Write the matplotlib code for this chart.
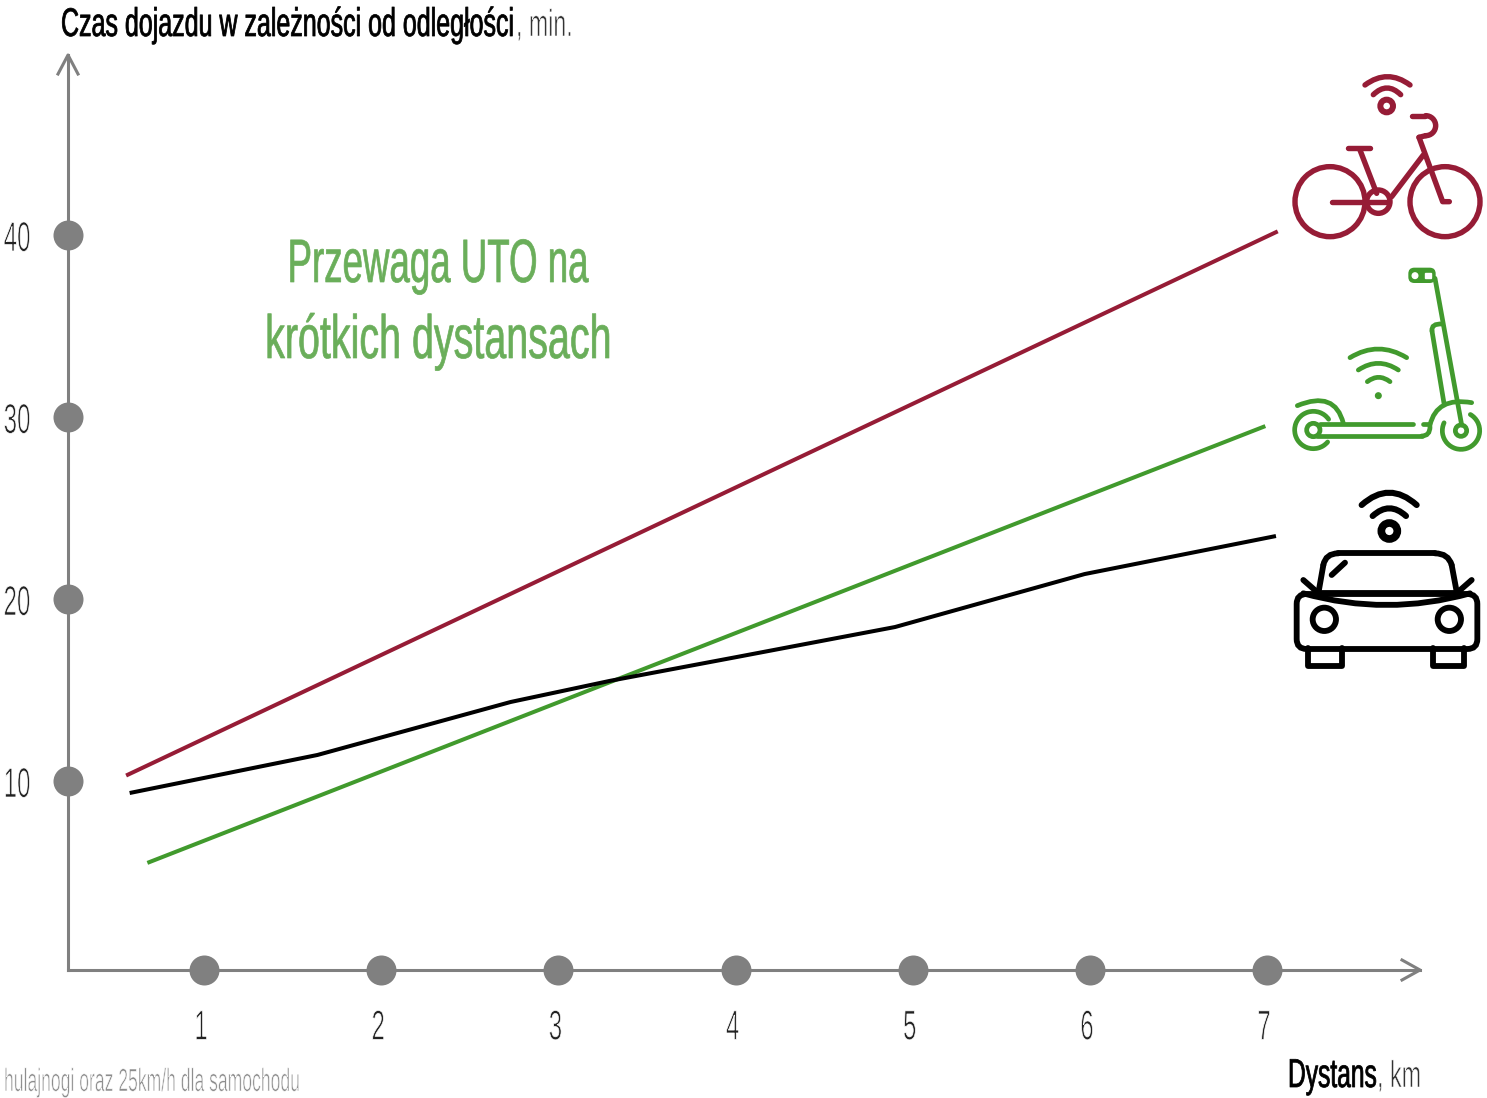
import matplotlib
matplotlib.use('Agg')
import matplotlib.pyplot as plt
from matplotlib.patches import Circle, PathPatch, FancyBboxPatch, Rectangle
from matplotlib.path import Path
from matplotlib.patheffects import AbstractPathEffect
from matplotlib.transforms import Affine2D

plt.rcParams['font.family'] = ['Liberation Sans Narrow', 'Liberation Sans', 'DejaVu Sans']

# dane
dist_ticks = [1, 2, 3, 4, 5, 6, 7]
time_ticks = [10, 20, 30, 40]
bike_x = [0.56, 7.06]
bike_y = [10.3, 40.2]
scooter_x = [0.68, 6.99]
scooter_y = [5.5, 29.5]
car_x = [0.58, 1.64, 2.73, 3.29, 4.0, 4.9, 5.97, 7.05]
car_y = [9.34, 11.43, 14.34, 15.5, 16.8, 18.46, 21.37, 23.46]

GRAY = '#808080'
RED = '#961c36'
GREEN = '#419a2d'
LIGHT_GREEN = '#6aae5a'


class Tall(AbstractPathEffect):
    # rozciaga tekst w pionie od linii bazowej, font w oryginale jest mocno waski
    def __init__(self, sy, stroke=None, stroke_w=0, dx=0, dy=0):
        super().__init__()
        self.sy = sy
        self.stroke = stroke
        self.stroke_w = stroke_w
        self.dx = dx
        self.dy = dy

    def draw_path(self, renderer, gc, tpath, affine, rgbFace=None):
        base = affine.transform_point((0, 0))[1]
        tall = Affine2D().translate(self.dx, -base).scale(1, self.sy).translate(0, base + self.dy)
        renderer.draw_path(gc, tpath, affine + tall, rgbFace)
        if self.stroke:
            gc2 = renderer.new_gc()
            gc2.copy_properties(gc)
            gc2.set_foreground(self.stroke)
            gc2.set_linewidth(self.stroke_w)
            renderer.draw_path(gc2, tpath, affine + tall, None)
            gc2.restore()


fig = plt.figure(figsize=(14.87, 10.98), dpi=100)
W, H = 1487, 1098

# wykres
ax = fig.add_axes([68 / W, (H - 970) / H, (1420 - 68) / W, (970 - 55) / H])
ax.set_xlim(0.232, 7.863)
ax.set_ylim(-0.385, 49.89)
for side in ['top', 'right']:
    ax.spines[side].set_visible(False)
for side in ['left', 'bottom']:
    ax.spines[side].set_color(GRAY)
    ax.spines[side].set_linewidth(2.2)
ax.patch.set_visible(False)

ax.plot(bike_x, bike_y, color=RED, lw=2.9, solid_capstyle='butt')
ax.plot(scooter_x, scooter_y, color=GREEN, lw=2.9, solid_capstyle='butt')
ax.plot(car_x, car_y, color='black', lw=2.9, solid_capstyle='butt')

ax.scatter(dist_ticks, [ax.get_ylim()[0]] * len(dist_ticks), s=467, color=GRAY, clip_on=False, zorder=5, lw=0)
ax.scatter([ax.get_xlim()[0]] * len(time_ticks), time_ticks, s=467, color=GRAY, clip_on=False, zorder=5, lw=0)

ax.set_xticks(dist_ticks)
ax.set_xticklabels([str(v) for v in dist_ticks])
ax.set_yticks(time_ticks)
ax.set_yticklabels([str(v) for v in time_ticks])
ax.tick_params(axis='x', length=0, pad=50, labelsize=17.4, labelcolor='#222222')
ax.tick_params(axis='y', length=0, pad=27, labelsize=17.4, labelcolor='#222222')
for lab in ax.get_xticklabels():
    lab.set_va('baseline')
    lab.set_path_effects([Tall(1.72, 'white', 0.5, dx=-3)])
for lab in ax.get_yticklabels():
    lab.set_va('baseline')
    lab.set_path_effects([Tall(1.72, 'white', 0.5, dy=-16)])

# warstwa w pikselach: strzalki, ikony, napisy
ov = fig.add_axes([0, 0, 1, 1])
ov.set_xlim(0, W)
ov.set_ylim(H, 0)
ov.axis('off')
ov.patch.set_visible(False)

ov.plot([58, 68, 78], [74, 55, 74], color=GRAY, lw=2.2)
ov.plot([1402, 1420, 1402], [960, 970, 980], color=GRAY, lw=2.2)


def line(x0, y0, pts, color, lw):
    ov.plot([x0 + p[0] / 3 for p in pts], [y0 + p[1] / 3 for p in pts], color=color, lw=lw,
            solid_capstyle='round', solid_joinstyle='round')


def curve(x0, y0, a, c, b, color, lw):
    verts = [(x0 + p[0] / 3, y0 + p[1] / 3) for p in (a, c, b)]
    ov.add_patch(PathPatch(Path(verts, [Path.MOVETO, Path.CURVE3, Path.CURVE3]), fill=False,
                           edgecolor=color, lw=lw, capstyle='round'))


def ring(x0, y0, c, r, color, lw, t1=None, t2=None):
    if t1 is None:
        ov.add_patch(Circle((x0 + c[0] / 3, y0 + c[1] / 3), r / 3, fill=False, edgecolor=color, lw=lw))
    else:
        arc = Path.arc(t1, t2)
        verts = arc.vertices * (r / 3) + [x0 + c[0] / 3, y0 + c[1] / 3]
        ov.add_patch(PathPatch(Path(verts, arc.codes), fill=False, edgecolor=color, lw=lw, capstyle='round'))


def wifi(x0, y0, arcs, color, lw):
    for a, b, yy, peak in arcs:
        curve(x0, y0, (a, yy), ((a + b) / 2, 2 * peak - yy), (b, yy), color, lw)


# rower
x0, y0, lw = 1280, 60, 3.9
ring(x0, y0, (150, 425), 105, RED, lw)
ring(x0, y0, (495, 425), 105, RED, lw)
ring(x0, y0, (295, 425), 35, RED, lw)
line(x0, y0, [(157, 425), (320, 425)], RED, lw)
line(x0, y0, [(203, 265), (270, 265)], RED, lw)
line(x0, y0, [(240, 270), (290, 400)], RED, lw)
line(x0, y0, [(335, 410), (430, 285)], RED, lw)
line(x0, y0, [(417, 232), (488, 425), (508, 425)], RED, lw)
line(x0, y0, [(395, 167), (435, 167)], RED, lw)
ring(x0, y0, (437, 197), 30, RED, lw, -90, 90)
line(x0, y0, [(437, 227), (417, 232)], RED, lw)
ring(x0, y0, (320, 138), 19, RED, 4.3)
wifi(x0, y0, [(280, 362, 104, 84), (255, 390, 75, 50)], RED, lw)

# hulajnoga
x0, y0, lw = 1280, 255, 3.4
ov.add_patch(FancyBboxPatch((x0 + 385 / 3, y0 + 38 / 3), 82 / 3, 46 / 3, boxstyle='round,pad=0,rounding_size=6',
                            facecolor=GREEN, edgecolor='none'))
ov.add_patch(Circle((x0 + 405 / 3, y0 + 62 / 3), 2.8, color='white'))
ov.add_patch(Rectangle((x0 + 434 / 3, y0 + 55 / 3), 20 / 3, 13 / 3, color='white'))
line(x0, y0, [(465, 70), (545, 510)], GREEN, lw)
line(x0, y0, [(492, 445), (456, 228)], GREEN, lw)
curve(x0, y0, (456, 228), (453, 205), (487, 207), GREEN, lw)
ring(x0, y0, (543, 527), 17, GREEN, lw)
ring(x0, y0, (543, 527), 56, GREEN, lw, -60, 205)
curve(x0, y0, (575, 443), (470, 425), (450, 510), GREEN, lw)
line(x0, y0, [(120, 508), (400, 508)], GREEN, lw)
line(x0, y0, [(110, 543), (425, 543)], GREEN, lw)
curve(x0, y0, (425, 543), (450, 543), (450, 515), GREEN, lw)
line(x0, y0, [(430, 508), (448, 508)], GREEN, lw)
ring(x0, y0, (100, 525), 20, GREEN, lw)
ring(x0, y0, (100, 525), 56, GREEN, lw, 40, 325)
curve(x0, y0, (52, 452), (165, 405), (190, 505), GREEN, lw)
wifi(x0, y0, [(210, 380, 308, 282), (235, 355, 345, 325), (262, 330, 380, 367)], GREEN, lw)
ov.add_patch(Circle((x0 + 295 / 3, y0 + 422 / 3), 2.8, color=GREEN))

# samochod
x0, y0, lw, K = 1280, 480, 4.2, 'black'
ov.add_patch(FancyBboxPatch((x0 + 50 / 3, y0 + 342 / 3), 542 / 3, 165 / 3, boxstyle='round,pad=0,rounding_size=10',
                            fill=False, edgecolor=K, lw=lw))
curve(x0, y0, (70, 340), (320, 410), (570, 340), K, lw)
line(x0, y0, [(115, 340), (530, 340)], K, lw)
line(x0, y0, [(115, 340), (130, 255)], K, lw)
curve(x0, y0, (130, 255), (137, 220), (175, 220), K, lw)
line(x0, y0, [(175, 220), (465, 220)], K, lw)
curve(x0, y0, (465, 220), (505, 220), (515, 255), K, lw)
line(x0, y0, [(515, 255), (530, 335)], K, lw)
line(x0, y0, [(70, 300), (110, 335)], K, lw)
line(x0, y0, [(575, 300), (535, 335)], K, lw)
line(x0, y0, [(155, 285), (195, 248)], K, lw)
ring(x0, y0, (133, 418), 35, K, lw)
ring(x0, y0, (508, 418), 35, K, lw)
line(x0, y0, [(85, 505), (85, 558), (185, 558), (185, 505)], K, lw)
line(x0, y0, [(458, 505), (458, 558), (552, 558), (552, 505)], K, lw)
ring(x0, y0, (328, 153), 24, K, 5.5)
wifi(x0, y0, [(278, 378, 108, 85), (245, 410, 75, 38)], K, 4.4)

# napisy
t = ov.text(61, 36, 'Czas dojazdu w zależności od odległości', fontsize=18.0, color='black', va='baseline')
t.set_path_effects([Tall(1.6, 'black', 0.55)])
t = ov.text(516, 36, ', min.', fontsize=16.7, color='#333333', va='baseline')
t.set_path_effects([Tall(1.62, 'white', 0.4)])
t = ov.text(438, 282, 'Przewaga UTO na', fontsize=26.4, color=LIGHT_GREEN, ha='center', va='baseline')
t.set_path_effects([Tall(1.67, LIGHT_GREEN, 0.5)])
t = ov.text(438, 358, 'krótkich dystansach', fontsize=28.4, color=LIGHT_GREEN, ha='center', va='baseline')
t.set_path_effects([Tall(1.55, LIGHT_GREEN, 0.5)])
t = ov.text(1288, 1087, 'Dystans', fontsize=17.7, color='black', va='baseline')
t.set_path_effects([Tall(1.64, 'black', 0.55)])
t = ov.text(1377, 1087, ', km', fontsize=16.8, color='#333333', va='baseline')
t.set_path_effects([Tall(1.6, 'white', 0.4)])
t = ov.text(4, 1091, 'hulajnogi oraz 25km/h dla samochodu', fontsize=12.65, color='#8c8c8c', va='baseline')
t.set_path_effects([Tall(1.82, 'white', 0.4)])

fig.savefig('out.png', dpi=100)
